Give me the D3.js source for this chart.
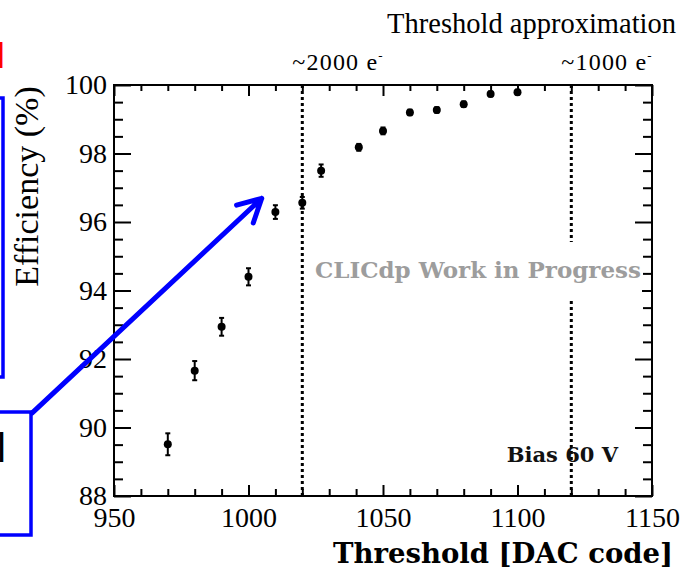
<!DOCTYPE html>
<html>
<head>
<meta charset="utf-8">
<script src="https://cdn.jsdelivr.net/npm/d3@7"></script>
<style>
  html, body { margin: 0; padding: 0; background: #fff; }
  svg { display: block; }
</style>
</head>
<body>
<svg id="chart" width="681" height="567"></svg>
<script>
// Threshold scan: efficiency vs. threshold DAC code
const thresholdCodes = [970, 980, 990, 1000, 1010, 1020, 1027, 1041, 1050, 1060, 1070, 1080, 1090, 1100];
const efficiencyPct  = [89.51, 91.66, 92.94, 94.40, 96.29, 96.56, 97.50, 98.18, 98.66, 99.20, 99.27, 99.44, 99.74, 99.79];
const efficiencyErr  = [0.32, 0.28, 0.26, 0.25, 0.20, 0.17, 0.18, 0.10, 0.10, 0.08, 0.08, 0.08, 0.07, 0.07];

const xTickValues = [950, 1000, 1050, 1100, 1150];
const yTickValues = [88, 90, 92, 94, 96, 98, 100];

// Approximate charge thresholds marked on the scan
const markerCodes  = [1020, 1120];
const markerLabels = ["~2000 e", "~1000 e"];

const svg = d3.select("#chart");
const plot = { left: 114, right: 652, top: 85, bottom: 496 };

const x = d3.scaleLinear().domain([950, 1150]).range([plot.left, plot.right]);
const y = d3.scaleLinear().domain([88, 100]).range([plot.bottom, plot.top]);

const serif = "'Liberation Serif', 'Times New Roman', serif";
const boldSerif = "'DejaVu Serif', serif";

// Minor ticks
const xMinor = d3.range(950, 1151, 10).filter(v => v % 50 !== 0);
const yMinor = d3.range(88, 100.01, 0.5).filter(v => v % 2 !== 0);

function styleAxis(g) {
  g.select(".domain").remove();
  g.selectAll(".tick line").attr("stroke", "#000").attr("stroke-width", 2);
}

// Bottom axis with labels
svg.append("g")
  .attr("transform", `translate(0,${plot.bottom})`)
  .call(d3.axisBottom(x).tickValues(xTickValues).tickSize(-11).tickPadding(11).tickFormat(d3.format("d")))
  .call(styleAxis)
  .call(g => g.selectAll("text").attr("font-family", serif).attr("font-size", 28).attr("fill", "#000"));
svg.append("g")
  .attr("transform", `translate(0,${plot.bottom})`)
  .call(d3.axisBottom(x).tickValues(xMinor).tickSize(-7).tickFormat(""))
  .call(styleAxis);

// Top axis (ticks only)
svg.append("g")
  .attr("transform", `translate(0,${plot.top})`)
  .call(d3.axisTop(x).tickValues(xTickValues).tickSize(-11).tickFormat(""))
  .call(styleAxis);
svg.append("g")
  .attr("transform", `translate(0,${plot.top})`)
  .call(d3.axisTop(x).tickValues(xMinor).tickSize(-6).tickFormat(""))
  .call(styleAxis);

// Left axis with labels
svg.append("g")
  .attr("transform", `translate(${plot.left},0)`)
  .call(d3.axisLeft(y).tickValues(yTickValues).tickSize(-17).tickPadding(7).tickFormat(d3.format("d")))
  .call(styleAxis)
  .call(g => g.selectAll("text").attr("font-family", serif).attr("font-size", 28).attr("fill", "#000"));
svg.append("g")
  .attr("transform", `translate(${plot.left},0)`)
  .call(d3.axisLeft(y).tickValues(yMinor).tickSize(-9).tickFormat(""))
  .call(styleAxis);

// Right axis (ticks only)
svg.append("g")
  .attr("transform", `translate(${plot.right},0)`)
  .call(d3.axisRight(y).tickValues(yTickValues).tickSize(-17).tickFormat(""))
  .call(styleAxis);
svg.append("g")
  .attr("transform", `translate(${plot.right},0)`)
  .call(d3.axisRight(y).tickValues(yMinor).tickSize(-9).tickFormat(""))
  .call(styleAxis);

// Vertical dotted threshold lines
svg.append("g").selectAll("line")
  .data(markerCodes)
  .join("line")
  .attr("x1", d => x(d)).attr("x2", d => x(d))
  .attr("y1", y(100)).attr("y2", y(88))
  .attr("stroke", "#000").attr("stroke-width", 3)
  .attr("stroke-dasharray", "3,3");

// Labels above the threshold lines
const mk = svg.append("g").selectAll("text")
  .data(markerCodes)
  .join("text")
  .attr("x", d => x(d) - 10)
  .attr("y", 70)
  .attr("font-family", serif).attr("font-size", 24)
  .attr("letter-spacing", 1.2)
  .attr("fill", "#000");
mk.append("tspan").text((d, i) => markerLabels[i]);
mk.append("tspan").attr("font-size", 13).attr("dy", -10).text("-");

svg.append("text")
  .attr("x", 676).attr("y", 33)
  .attr("text-anchor", "end")
  .attr("font-family", serif).attr("font-size", 28.5)
  .attr("fill", "#000")
  .text("Threshold approximation");

// Work-in-progress label on a white patch
svg.append("rect")
  .attr("x", 308).attr("y", 242).attr("width", 334).attr("height", 57)
  .attr("fill", "#fff");
svg.append("text")
  .attr("x", 315).attr("y", 278)
  .attr("font-family", boldSerif).attr("font-weight", "bold").attr("font-size", 23)
  .attr("fill", "#9d9d9d")
  .text("CLICdp Work in Progress");

svg.append("text")
  .attr("x", 618).attr("y", 462)
  .attr("text-anchor", "end")
  .attr("font-family", boldSerif).attr("font-weight", "bold").attr("font-size", 21)
  .attr("fill", "#111")
  .text("Bias 60 V");

// Frame
svg.append("rect")
  .attr("x", plot.left).attr("y", plot.top)
  .attr("width", plot.right - plot.left).attr("height", plot.bottom - plot.top)
  .attr("fill", "none").attr("stroke", "#000").attr("stroke-width", 2);

// Data points with error bars
const pts = thresholdCodes.map((c, i) => ({ c, e: efficiencyPct[i], err: efficiencyErr[i] }));
const pg = svg.append("g");
pg.selectAll("line.bar").data(pts).join("line").attr("class", "bar")
  .attr("x1", d => x(d.c)).attr("x2", d => x(d.c))
  .attr("y1", d => y(d.e - d.err)).attr("y2", d => y(d.e + d.err))
  .attr("stroke", "#000").attr("stroke-width", 2);
pg.selectAll("line.capLo").data(pts).join("line").attr("class", "capLo")
  .attr("x1", d => x(d.c) - 2.5).attr("x2", d => x(d.c) + 2.5)
  .attr("y1", d => y(d.e - d.err)).attr("y2", d => y(d.e - d.err))
  .attr("stroke", "#000").attr("stroke-width", 2);
pg.selectAll("line.capHi").data(pts).join("line").attr("class", "capHi")
  .attr("x1", d => x(d.c) - 2.5).attr("x2", d => x(d.c) + 2.5)
  .attr("y1", d => y(d.e + d.err)).attr("y2", d => y(d.e + d.err))
  .attr("stroke", "#000").attr("stroke-width", 2);
pg.selectAll("circle").data(pts).join("circle")
  .attr("cx", d => x(d.c)).attr("cy", d => y(d.e)).attr("r", 4)
  .attr("fill", "#000");

// Axis titles
svg.append("text")
  .attr("transform", `translate(38,${(plot.top + 288) / 2}) rotate(-90)`)
  .attr("text-anchor", "middle")
  .attr("font-family", serif).attr("font-size", 34)
  .attr("fill", "#000")
  .text("Efficiency (%)");

svg.append("text")
  .attr("x", 673).attr("y", 563)
  .attr("text-anchor", "end")
  .attr("font-family", boldSerif).attr("font-weight", "bold").attr("font-size", 27.5)
  .attr("fill", "#000")
  .text("Threshold [DAC code]");

// Slide callouts around the plot
const blue = "#0000ff";
svg.append("text")
  .attr("x", -3).attr("y", 68)
  .attr("font-family", "'Liberation Sans', sans-serif").attr("font-size", 35)
  .attr("fill", "#ff0000").text("l");
svg.append("rect")
  .attr("x", -100).attr("y", 98).attr("width", 103).attr("height", 279)
  .attr("fill", "none").attr("stroke", blue).attr("stroke-width", 3.5);
svg.append("rect")
  .attr("x", -100).attr("y", 412).attr("width", 131).attr("height", 123)
  .attr("fill", "none").attr("stroke", blue).attr("stroke-width", 3.5);
svg.append("text")
  .attr("x", -3).attr("y", 462)
  .attr("font-family", "'Liberation Sans', sans-serif").attr("font-size", 40)
  .attr("fill", "#000").text("l");

// Arrow from the callout box toward the knee of the curve
const arrowFrom = [919.5, 90.42];
const arrowTo = [1004.9, 96.69];
const ax0 = x(arrowFrom[0]), ay0 = y(arrowFrom[1]);
const ax1 = x(arrowTo[0]), ay1 = y(arrowTo[1]);
const ang = Math.atan2(ay0 - ay1, ax0 - ax1);
const headLen = 26, headSpread = 28 * Math.PI / 180;
const arrowPath = d3.path();
arrowPath.moveTo(ax0, ay0);
arrowPath.lineTo(ax1, ay1);
arrowPath.moveTo(ax1 + headLen * Math.cos(ang - headSpread), ay1 + headLen * Math.sin(ang - headSpread));
arrowPath.lineTo(ax1, ay1);
arrowPath.lineTo(ax1 + headLen * Math.cos(ang + headSpread), ay1 + headLen * Math.sin(ang + headSpread));
svg.append("path")
  .attr("d", arrowPath.toString())
  .attr("fill", "none").attr("stroke", blue).attr("stroke-width", 5)
  .attr("stroke-linecap", "round").attr("stroke-linejoin", "round");
</script>
</body>
</html>
